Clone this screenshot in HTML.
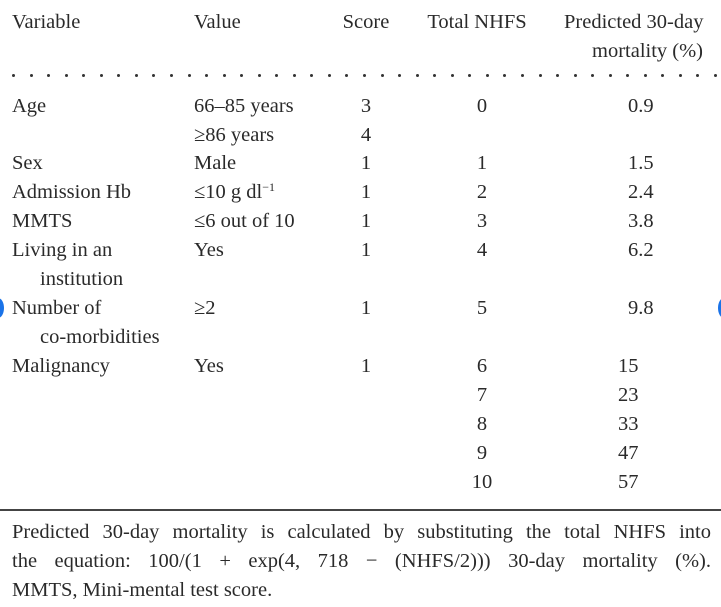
<!DOCTYPE html>
<html><head><meta charset="utf-8"><style>
body{margin:0;width:721px;height:607px;background:#fff;position:relative;overflow:hidden;font-family:"Liberation Serif","DejaVu Serif",serif;color:#2a2a2a;font-size:20.5px}
.t{position:absolute;white-space:nowrap;line-height:20px;transform:translateY(-10px)}
.c{transform:translate(-50%,-10px)}
sup{font-size:12px;line-height:0;vertical-align:7px}
.dot{position:absolute;width:3px;height:3px;border-radius:50%;background:#333;top:74px}
.fl{position:absolute;left:12px;width:699px;line-height:20px;text-align:justify;text-align-last:justify;white-space:nowrap;font-size:20.5px;transform:translateY(-10px)}
</style></head><body>
<div class="t" style="left:12px;top:22px">Variable</div>
<div class="t" style="left:194px;top:22px">Value</div>
<div class="t c" style="left:366px;top:22px">Score</div>
<div class="t c" style="left:477px;top:22px">Total NHFS</div>
<div class="t" style="left:564px;top:22px">Predicted 30-day</div>
<div class="t" style="left:592px;top:51px">mortality (%)</div>
<div id="dots"></div>
<div id="rows"></div>
<div style="position:absolute;left:0;top:509px;width:721px;height:2px;background:#444"></div>
<div>
<div class="fl" style="top:532px;white-space:normal">Predicted 30-day mortality is calculated by substituting the total NHFS into</div>
<div class="fl" style="top:561px;white-space:normal">the equation: 100/(1 + exp(4, 718 − (NHFS/2))) 30-day mortality (%).</div>
<div class="fl" style="top:590px;text-align-last:left">MMTS, Mini-mental test score.</div>
</div>
<div style="position:absolute;left:-8px;top:298px;width:12px;height:20px;border-radius:50%;background:#1a73e8"></div>
<div style="position:absolute;left:718px;top:298px;width:12px;height:20px;border-radius:50%;background:#1a73e8"></div>
<script>
const variables=[["Age",106],["Sex",163],["Admission Hb",192],["MMTS",221],["Living in an",250],["   institution",279],["Number of",308],["   co-morbidities",337],["Malignancy",366]];
const values=[["66–85 years",106],["≥86 years",135],["Male",163],["≤10 g dl<sup>−1</sup>",192],["≤6 out of 10",221],["Yes",250],["≥2",308],["Yes",366]];
const scores=[["3",106],["4",135],["1",163],["1",192],["1",221],["1",250],["1",308],["1",366]];
const totals=["0","1","2","3","4","5","6","7","8","9","10"];
const totalY=[106,163,192,221,250,308,366,395,424,453,482];
const mortality=["0.9","1.5","2.4","3.8","6.2","9.8","15","23","33","47","57"];
const rows=document.getElementById('rows');
function add(html,x,y,name,center){const d=document.createElement('div');d.className='t'+(center?' c':'');d.style.left=x+'px';d.style.top=y+'px';d.innerHTML=html;


rows.appendChild(d);}
variables.forEach(v=>{const ind=v[0].startsWith(' ');add(v[0].trim(),ind?40:12,v[1],'variable-cell');});
values.forEach(v=>add(v[0],194,v[1],'value-cell'));
scores.forEach(v=>add(v[0],366,v[1],'score-cell',true));
totals.forEach((v,i)=>add(v,482,totalY[i],'total-nhfs-cell',true));
mortality.forEach((v,i)=>add(v,v.includes('.')?628:618,totalY[i],'mortality-cell'));
const dots=document.getElementById('dots');
for(let x=12;x<715;x+=17.55){const d=document.createElement('div');d.className='dot';d.style.left=x+'px';


dots.appendChild(d);}
</script>
</body></html>
